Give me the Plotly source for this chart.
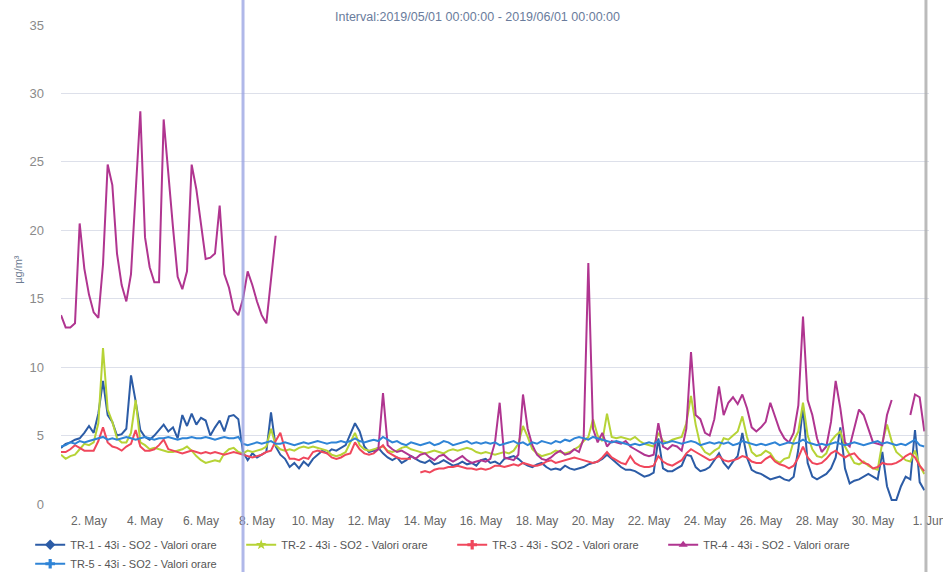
import pandas as pd
import plotly.graph_objects as go

# 4-hourly samples, May 1 00:00 -> May 31 20:00 (6 values per day, one row per day)
times = pd.date_range("2019-05-01 00:00", periods=186, freq="4h")

tr1 = [
    4.1, 4.4, 4.5, 4.7, 4.8, 5.2,
    5.7, 5.2, 6.6, 9.0, 6.5, 6.0,
    5.0, 5.1, 5.5, 9.4, 7.5, 5.4,
    4.9, 4.7, 5.0, 5.4, 5.8, 5.3,
    5.6, 4.8, 6.5, 5.7, 6.6, 5.8,
    6.3, 6.1, 5.0, 5.6, 6.1, 5.3,
    6.4, 6.5, 6.2, 3.8, 3.2, 3.7,
    3.4, 3.6, 3.8, 6.7, 4.2, 3.6,
    3.3, 2.7, 3.0, 2.6, 3.1, 2.8,
    3.3, 3.6, 3.9, 3.7, 4.0, 3.9,
    4.1, 4.3, 5.1, 5.9, 5.3, 4.2,
    3.8, 3.9, 4.1, 3.7, 3.4, 3.2,
    3.4, 3.0, 3.2, 3.5, 3.3, 3.1,
    3.0, 3.2, 2.9, 3.0, 3.2, 3.0,
    2.8, 2.9, 3.1, 2.9, 3.0, 2.8,
    3.2, 3.3, 3.0, 3.1, 2.9, 3.3,
    3.4, 3.5, 3.3, 3.0, 2.8, 2.7,
    2.9, 3.0, 2.7, 2.5, 2.6, 2.5,
    2.8, 2.6, 2.5, 2.6, 2.7, 2.9,
    3.0, 3.1, 3.3, 3.6, 3.3, 3.0,
    2.7, 2.5, 2.5, 2.4, 2.2, 2.0,
    2.1, 2.3, 4.8, 2.6, 2.4, 2.4,
    2.6, 2.8, 3.6, 3.5, 2.7, 2.4,
    2.5, 2.7, 3.2, 3.7, 3.0, 2.6,
    3.1, 3.5, 5.2, 3.4, 2.5, 2.3,
    2.2, 2.0, 1.8, 1.9, 2.0, 1.8,
    1.7, 2.0, 4.0, 7.1, 3.0, 2.0,
    1.8, 2.0, 2.2, 2.6, 3.4, 5.6,
    2.6, 1.5, 1.7, 1.8, 2.0, 2.2,
    2.0, 1.8, 3.8, 1.3, 0.3, 0.3,
    1.3, 2.0, 1.8, 5.4, 1.6, 1.0,
]

tr2 = [
    3.6, 3.3, 3.5, 3.6, 4.0, 4.4,
    4.3, 4.5, 5.9, 11.4, 6.9, 6.0,
    4.8, 4.5, 4.5, 5.2, 7.6, 4.5,
    4.3, 4.0, 4.1, 4.0, 3.9, 3.8,
    3.8, 3.9, 4.0, 4.2, 3.9, 3.5,
    3.2, 3.0, 3.1, 3.2, 3.1, 3.7,
    4.0, 4.1, 3.8, 3.7, 3.9, 3.8,
    3.9, 4.0, 4.2, 5.5, 4.3, 4.0,
    3.9, 4.0, 3.9, 4.1, 4.2, 4.1,
    4.2, 4.1, 4.0, 3.9, 3.6, 3.5,
    3.6, 3.8, 4.5, 5.2, 4.3, 4.0,
    3.9, 4.0, 4.1, 4.2, 3.9, 3.8,
    3.9, 4.1, 4.2, 4.0, 3.9, 3.8,
    3.7, 3.8, 3.9, 3.8, 3.7, 3.9,
    4.0, 3.9, 4.0, 4.1, 4.0, 3.8,
    3.7, 3.8, 3.7, 3.6, 3.7, 3.8,
    3.7, 3.9, 4.4, 5.7, 4.9, 4.0,
    3.7, 3.5, 3.6, 3.7, 3.9, 3.8,
    3.7, 3.8, 4.0, 4.2, 4.6, 4.9,
    6.2, 5.0, 4.6, 6.6, 4.9, 4.8,
    4.9, 4.8, 4.7, 4.9, 4.6, 4.4,
    4.3, 4.2, 5.2, 4.6, 4.5, 4.7,
    4.8, 4.9, 5.9, 7.9, 5.8, 4.3,
    3.8, 3.6, 3.9, 4.1, 4.8, 4.7,
    5.0, 5.3, 6.4, 4.9, 3.8, 3.5,
    3.6, 3.9, 3.7, 3.2, 3.0, 3.3,
    3.4, 4.6, 5.3, 7.4, 5.0, 4.0,
    3.5, 3.4, 3.7, 4.6, 5.0, 5.3,
    4.2, 3.6, 3.0, 2.9, 3.1, 2.8,
    2.6, 2.5, 4.5, 5.8, 4.6, 3.8,
    3.5, 3.2, 3.1, 3.9, 2.8, 2.2,
]

tr3 = [
    3.8, 3.8, 4.0, 4.3, 4.1, 3.9,
    3.9, 3.9, 4.6, 5.6, 4.5, 4.2,
    4.1, 3.9, 4.2, 4.4, 5.4, 4.2,
    3.9, 3.9, 4.0, 4.3, 4.7, 4.0,
    3.9, 3.8, 3.7, 3.8, 3.9, 3.8,
    3.7, 3.8, 3.7, 3.8, 3.7, 3.6,
    3.7, 3.8, 3.7, 3.6, 3.5, 3.4,
    3.5, 3.6, 3.8, 3.9, 4.6, 5.2,
    4.0, 3.3, 3.3, 3.2, 3.4, 3.3,
    3.8, 3.9, 3.8, 3.7, 3.4, 3.3,
    3.4, 3.6, 3.7, 4.5, 4.0, 3.7,
    3.6, 3.7, 4.0, 4.3, 3.8, 3.6,
    3.4, 3.3, 3.3, 3.3, None, 2.3,
    2.4, 2.3, 2.5, 2.6, 2.6, 2.7,
    2.7, 2.8, 2.7, 2.6, 2.6, 2.5,
    2.6, 2.5, 2.6, 2.8, 2.8, 2.7,
    2.8, 2.9, 2.8, 3.0, 2.9, 2.8,
    2.8, 2.9, 3.1, 3.2, 3.0, 3.1,
    3.2, 3.3, 3.4, 3.3, 3.2, 3.1,
    3.0, 3.1, 3.4, 3.8, 3.4, 3.2,
    3.0, 2.9, 3.5, 3.0, 2.8, 2.7,
    2.7, 2.8, 3.5, 3.1, 2.9, 2.8,
    3.0, 3.2, 3.7, 4.0, 3.8, 3.6,
    3.4, 3.2, 3.3, 3.5, 3.2, 3.1,
    3.2, 3.3, 3.5, 3.4, 3.1, 3.0,
    3.0, 3.3, 3.5, 3.1, 2.9, 2.8,
    2.6, 2.8, 3.4, 4.2, 3.4, 3.0,
    2.9, 3.0, 3.3, 3.7, 3.9, 3.6,
    3.4, 3.6, 3.7, 3.3, 3.0, 2.9,
    2.6, 2.7, 3.0, 2.9, 2.9, 3.0,
    3.2, 3.5, 3.7, 3.4, 2.8, 2.4,
]

tr4 = [
    13.8, 12.9, 12.9, 13.2, 20.5, 17.2,
    15.3, 14.0, 13.6, 17.5, 24.8, 23.3,
    18.3, 16.0, 14.8, 16.8, 22.8, 28.7,
    19.5, 17.3, 16.2, 16.2, 28.1, 24.0,
    20.2, 16.6, 15.7, 17.0, 24.8, 23.0,
    20.6, 17.9, 18.0, 18.3, 21.8, 16.8,
    15.8, 14.2, 13.8, 15.0, 17.0, 16.0,
    14.8, 13.8, 13.2, 16.5, 19.6, None,
    None, None, None, None, None, None,
    None, None, None, None, None, None,
    None, None, None, None, None, None,
    None, 3.8, 4.0, 8.1, 4.3, 4.0,
    3.8, 3.9, 3.7, 3.5, 3.3, 3.6,
    3.7, 3.4, 3.2, 3.5, 3.6, 3.3,
    3.1, 3.3, 3.5, 3.2, 3.0, 3.1,
    3.2, 3.1, 3.3, 4.5, 7.4, 3.4,
    3.3, 3.2, 3.6, 8.0, 5.5, 4.3,
    3.6, 3.3, 3.2, 3.4, 3.7, 3.9,
    3.6, 3.7, 4.0, 3.8, 4.8, 17.6,
    5.5, 4.5, 5.2, 4.2, 4.6, 4.5,
    4.4, 4.6, 4.2, 4.0, 3.8, 3.6,
    3.5, 3.6, 5.9, 4.2, 4.0, 4.3,
    4.2, 3.9, 5.5, 11.1, 6.5, 6.2,
    5.2, 5.0, 6.2, 8.6, 6.5, 7.4,
    7.8, 7.3, 8.0, 7.0, 5.6, 5.3,
    5.6, 6.0, 7.4, 6.4, 5.4, 4.8,
    4.5, 5.2, 7.2, 13.7, 7.6, 6.5,
    4.8, 3.8, 4.2, 6.0, 9.0, 7.0,
    4.5, 4.2, 5.5, 6.9, 6.5, 5.5,
    4.5, 4.4, 4.3, 6.5, 7.6, None,
    None, None, 6.5, 8.0, 7.8, 5.3,
]

tr5 = [
    4.2, 4.3, 4.5, 4.4, 4.6, 4.5,
    4.6, 4.7, 4.8, 4.9, 4.7, 4.8,
    4.7, 4.8, 4.9, 4.8, 4.7, 4.8,
    4.9, 4.8, 4.7, 4.8, 4.8, 4.9,
    4.8, 4.7, 4.8, 4.8, 4.9, 4.8,
    4.8, 4.9, 4.8, 4.7, 4.8, 4.9,
    4.8, 4.8, 4.9, 4.4, 4.3, 4.4,
    4.5, 4.4, 4.5, 4.6, 4.4, 4.4,
    4.5, 4.4, 4.3, 4.4, 4.5, 4.4,
    4.5, 4.6, 4.5, 4.4, 4.5, 4.5,
    4.6, 4.5, 4.6, 4.8, 4.6, 4.5,
    4.6, 4.7, 4.6, 4.9, 4.7, 4.5,
    4.6, 4.4, 4.3, 4.5, 4.4, 4.3,
    4.4, 4.5, 4.3, 4.4, 4.6, 4.5,
    4.3, 4.4, 4.5, 4.6, 4.4, 4.5,
    4.4, 4.5, 4.4, 4.5, 4.3, 4.4,
    4.5, 4.6, 4.4, 4.5, 4.3, 4.5,
    4.4, 4.6, 4.5, 4.4, 4.6, 4.5,
    4.7, 4.6, 4.8, 4.9, 4.8, 4.7,
    4.9, 4.8, 4.7, 4.6, 4.5, 4.6,
    4.5, 4.4, 4.3, 4.4, 4.3, 4.4,
    4.5, 4.4, 4.6, 4.4, 4.5, 4.6,
    4.5, 4.4, 4.5, 4.6, 4.5, 4.3,
    4.4, 4.5, 4.4, 4.5, 4.4, 4.5,
    4.3, 4.4, 4.6, 4.5, 4.4, 4.3,
    4.4, 4.3, 4.4, 4.5, 4.3, 4.4,
    4.5, 4.4, 4.5, 4.7, 4.5, 4.4,
    4.3, 4.4, 4.3, 4.4, 4.5, 4.4,
    4.3, 4.4, 4.5, 4.4, 4.3, 4.4,
    4.5, 4.6, 4.4, 4.5, 4.4, 4.3,
    4.4, 4.3, 4.5, 4.7, 4.3, 4.2,
]

series_names = [
    "TR-1 - 43i - SO2 - Valori orare",
    "TR-2 - 43i - SO2 - Valori orare",
    "TR-3 - 43i - SO2 - Valori orare",
    "TR-4 - 43i - SO2 - Valori orare",
    "TR-5 - 43i - SO2 - Valori orare",
]
series_values = [tr1, tr2, tr3, tr4, tr5]
series_colors = ["#2c5ca6", "#b6d336", "#f0475c", "#b03590", "#2f84d6"]
legend_symbols = ["diamond", "star", "cross", "triangle-up", "cross"]

title_text = "Interval:2019/05/01 00:00:00 - 2019/06/01 00:00:00"
y_title = "µg/m³"
x_start, x_end = "2019-05-01 00:00", "2019-06-01 00:00"
y_ticks = [0, 5, 10, 15, 20, 25, 30, 35]

fig = go.Figure()
for name, vals, col in zip(series_names, series_values, series_colors):
    fig.add_trace(go.Scatter(x=times, y=vals, mode="lines", name=name,
                             line=dict(color=col, width=2), showlegend=False,
                             connectgaps=False, hoverinfo="skip"))
# legend entries (no data)
for name, col, sym in zip(series_names, series_colors, legend_symbols):
    fig.add_trace(go.Scatter(x=[None], y=[None], mode="lines+markers", name=name,
                             line=dict(color=col, width=2),
                             marker=dict(color=col, size=8, symbol=sym)))

fig.update_layout(
    width=943, height=572,
    margin=dict(l=61, r=14, t=25, b=68, autoexpand=False),
    paper_bgcolor="white", plot_bgcolor="white",
    font=dict(family="Liberation Sans, Arial, sans-serif", color="#666666"),
    showlegend=True,
    legend=dict(orientation="h", xref="container", yref="container",
                x=0.032, y=0.073, xanchor="left", yanchor="top",
                font=dict(size=11, color="#555555"),
                entrywidth=166, entrywidthmode="pixels",
                itemwidth=30, tracegroupgap=0, bgcolor="rgba(0,0,0,0)"),
    xaxis=dict(type="date", range=[x_start, x_end], showgrid=False, automargin=False,
               tick0="2019-05-02", dtick=2 * 86400000, tickformat="%-d. %b",
               tickfont=dict(size=12, color="#666666"), ticks="",
               ticklabeloverflow="allow",
               showline=False, zeroline=False, ticklabelstandoff=8),
    yaxis=dict(range=[0, 35], tickvals=y_ticks, showgrid=True, automargin=False,
               gridcolor="#dde0ea", gridwidth=1, zeroline=False,
               tickfont=dict(size=13, color="#8a8a8a"), ticks="",
               ticklabelstandoff=16),
    annotations=[
        dict(text=title_text, xref="paper", yref="paper", x=0.4804, y=1.017,
             xanchor="center", yanchor="middle", showarrow=False,
             font=dict(size=12.5, color="#6a7c9c")),
        dict(text=y_title, xref="paper", yref="paper", x=-0.0495, y=0.489,
             xanchor="center", yanchor="middle", showarrow=False, textangle=-90,
             font=dict(size=11, color="#6b7a90")),
    ],
    shapes=[
        dict(type="line", xref="paper", yref="paper", x0=0.2097, x1=0.2097,
             y0=-0.15, y1=1.06, line=dict(color="rgba(150,160,225,0.75)", width=3)),
        dict(type="line", xref="paper", yref="paper", x0=0.9965, x1=0.9965,
             y0=-0.15, y1=1.06, line=dict(color="rgba(170,170,170,0.8)", width=3)),
    ],
)

fig.write_html("out.html", config={"displayModeBar": False},
               post_script="document.body.style.margin='0';")
